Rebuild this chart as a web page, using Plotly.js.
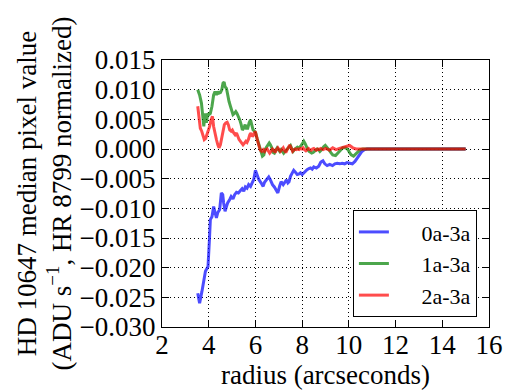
<!DOCTYPE html>
<html>
<head>
<meta charset="utf-8">
<script src="https://cdn.plot.ly/plotly-3.0.1.min.js"></script>
<style>html,body{margin:0;padding:0;background:#fff;}#chart{width:508px;height:392px;}</style>
</head>
<body>
<div id="chart"></div>
<script>
// series 0a-3a
const r0a = [3.53,3.61,3.71,3.79,3.86,3.93,3.97,4.03,4.07,4.14,4.21,4.26,4.33,4.39,4.47,4.54,4.60,4.64,4.70,4.76,4.81,4.90,4.96,5.04,5.11,5.19,5.27,5.36,5.43,5.50,5.57,5.64,5.71,5.79,5.86,5.93,6.00,6.07,6.14,6.24,6.33,6.39,6.47,6.57,6.64,6.73,6.81,6.90,6.96,7.04,7.10,7.19,7.24,7.33,7.39,7.44,7.50,7.57,7.64,7.71,7.79,7.87,7.93,8.00,8.07,8.14,8.21,8.29,8.36,8.43,8.50,8.61,8.71,8.80,8.89,8.97,9.07,9.18,9.30,9.40,9.50,9.61,9.71,9.82,9.92,10.04,10.15,10.26,10.36,10.46,10.56,10.68,10.78,11.0,12.0,13.0,14.0,15.0];
const v0a = [-0.0243,-0.0260,-0.0240,-0.0220,-0.0206,-0.0201,-0.0198,-0.0153,-0.0119,-0.0114,-0.0097,-0.0105,-0.0116,-0.0107,-0.0102,-0.0074,-0.0077,-0.0091,-0.0105,-0.0097,-0.0091,-0.0085,-0.0080,-0.0084,-0.0077,-0.0073,-0.0074,-0.0070,-0.0067,-0.0071,-0.0064,-0.0066,-0.0060,-0.0063,-0.0056,-0.0051,-0.0036,-0.0043,-0.0051,-0.0057,-0.0063,-0.0056,-0.0052,-0.0047,-0.0052,-0.0060,-0.0064,-0.0069,-0.0074,-0.0062,-0.0055,-0.0060,-0.0057,-0.0052,-0.0057,-0.0055,-0.0046,-0.0040,-0.0036,-0.0039,-0.0043,-0.0042,-0.0040,-0.0043,-0.0040,-0.0038,-0.0035,-0.0033,-0.0032,-0.0034,-0.0030,-0.0032,-0.0029,-0.0022,-0.0020,-0.0025,-0.0028,-0.0026,-0.0028,-0.0025,-0.0024,-0.0025,-0.0024,-0.0025,-0.0023,-0.0024,-0.0025,-0.0021,-0.0015,-0.0008,-0.0004,-0.0001,0,0,0,0,0,0];

// series 1a-3a
const r1a = [3.53,3.61,3.69,3.74,3.79,3.84,3.90,3.96,4.01,4.07,4.14,4.21,4.27,4.33,4.39,4.44,4.50,4.56,4.61,4.66,4.70,4.76,4.81,4.87,4.93,4.99,5.04,5.10,5.16,5.21,5.27,5.33,5.39,5.44,5.50,5.56,5.61,5.67,5.73,5.79,5.84,5.90,5.96,6.01,6.07,6.13,6.19,6.24,6.30,6.36,6.41,6.47,6.53,6.59,6.64,6.70,6.76,6.81,6.87,6.93,6.99,7.04,7.10,7.16,7.21,7.27,7.33,7.39,7.44,7.50,7.56,7.61,7.67,7.73,7.79,7.84,7.90,7.96,8.01,8.07,8.13,8.19,8.24,8.30,8.36,8.41,8.47,8.53,8.59,8.64,8.70,8.76,8.81,8.87,8.93,8.99,9.04,9.10,9.16,9.23,9.31,9.43,9.53,9.63,9.74,9.86,9.96,10.03,10.10,10.20,10.29,10.39,10.49,10.60,11.0,12.0,13.0,14.0,15.0];
const v1a = [0.0100,0.0091,0.0077,0.0055,0.0038,0.0060,0.0044,0.0060,0.0058,0.0060,0.0072,0.0091,0.0097,0.0091,0.0097,0.0094,0.0095,0.0100,0.0111,0.0113,0.0105,0.0102,0.0091,0.0080,0.0072,0.0063,0.0058,0.0060,0.0063,0.0060,0.0055,0.0049,0.0041,0.0032,0.0035,0.0041,0.0035,0.0035,0.0044,0.0049,0.0041,0.0032,0.0030,0.0027,0.0018,0.0010,0.0002,-0.0007,-0.0012,-0.0010,-0.0001,0.0003,0.0006,0.0010,0.0007,0.0002,-0.0006,-0.0007,-0.0002,0.0002,-0.0001,-0.0004,-0.0001,-0.0004,-0.0007,-0.0004,-0.0001,0.0002,0.0003,0.0006,0.0000,-0.0004,-0.0001,0.0002,0.0003,0.0001,0.0003,0.0006,0.0009,0.0013,0.0009,0.0003,-0.0001,-0.0004,-0.0006,-0.0007,-0.0006,-0.0004,-0.0001,0.0000,-0.0001,-0.0004,-0.0002,0.0002,0.0004,0.0006,0.0003,0.0001,-0.0002,-0.0006,-0.0010,-0.0011,-0.0007,-0.0002,0.0002,0.0002,-0.0001,-0.0006,-0.0010,-0.0012,-0.0008,-0.0004,-0.0001,0,0,0,0,0,0];

// series 2a-3a
const r2a = [3.53,3.59,3.64,3.70,3.76,3.81,3.87,3.93,3.99,4.04,4.10,4.16,4.21,4.27,4.33,4.39,4.44,4.50,4.56,4.61,4.67,4.73,4.79,4.84,4.90,4.96,5.01,5.07,5.13,5.19,5.24,5.30,5.36,5.41,5.47,5.53,5.59,5.64,5.70,5.76,5.81,5.87,5.93,5.99,6.04,6.10,6.16,6.21,6.27,6.33,6.39,6.44,6.50,6.56,6.61,6.67,6.73,6.79,6.84,6.90,6.96,7.01,7.07,7.13,7.19,7.24,7.30,7.36,7.41,7.47,7.53,7.59,7.64,7.70,7.76,7.81,7.87,7.93,7.99,8.04,8.10,8.16,8.21,8.27,8.33,8.39,8.44,8.50,8.56,8.61,8.67,8.73,8.79,8.84,8.90,8.96,9.01,9.07,9.17,9.31,9.45,9.60,9.74,9.89,10.03,10.17,10.31,10.45,10.60,11.0,12.0,13.0,14.0,15.0];
const v2a = [0.0072,0.0049,0.0035,0.0030,0.0024,0.0016,0.0018,0.0024,0.0030,0.0038,0.0049,0.0055,0.0038,0.0024,0.0016,0.0007,0.0002,0.0007,0.0021,0.0032,0.0041,0.0044,0.0045,0.0041,0.0032,0.0030,0.0032,0.0027,0.0024,0.0027,0.0021,0.0016,0.0013,0.0010,0.0007,0.0010,0.0013,0.0011,0.0016,0.0024,0.0027,0.0021,0.0024,0.0030,0.0024,0.0013,0.0004,-0.0002,-0.0004,-0.0001,-0.0004,-0.0001,0.0000,-0.0004,-0.0007,-0.0004,0.0000,-0.0002,-0.0006,-0.0001,0.0002,-0.0001,-0.0004,-0.0001,0.0002,-0.0002,-0.0006,-0.0001,0.0003,0.0007,0.0002,-0.0004,-0.0002,0.0000,-0.0001,0.0000,-0.0001,0.0001,0.0000,0.0002,-0.0001,-0.0003,-0.0001,0.0001,-0.0001,-0.0002,0.0000,0.0001,-0.0001,-0.0002,0.0000,-0.0001,0.0001,0.0000,-0.0001,0.0000,0.0001,0.0000,-0.0002,0.0002,-0.0001,0.0001,0.0003,0.0004,0.0006,0.0002,0.0000,0.0000,0,0,0,0,0,0];

const seriesNames = ['0a-3a','1a-3a','2a-3a'];
const seriesColors = ['rgba(0,0,255,0.7)','rgba(0,128,0,0.7)','rgba(255,0,0,0.7)'];
const xTicks = [2,4,6,8,10,12,14,16];
const yTicks = [-0.030,-0.025,-0.020,-0.015,-0.010,-0.005,0.000,0.005,0.010,0.015];

const SERIF = 'Liberation Serif';
const rs = [r0a, r1a, r2a];
const vs = [v0a, v1a, v2a];
const traces = rs.map((r, i) => ({
  x: r, y: vs[i], type: 'scatter', mode: 'lines',
  name: '\u00a0\u00a0\u00a0\u00a0\u00a0' + seriesNames[i],
  line: {color: seriesColors[i], width: 3}
}));

const layout = {
  width: 508, height: 392,
  margin: {l: 162, r: 19, t: 60, b: 65},
  font: {family: SERIF, size: 27, color: '#000'},
  showlegend: true,
  legend: {
    x: 0.963, y: 0.037, xanchor: 'right', yanchor: 'bottom',
    bgcolor: 'white', bordercolor: 'black', borderwidth: 1,
    font: {family: SERIF, size: 22}
  },
  xaxis: {
    range: [2, 16], tickvals: xTicks,
    showline: true, linecolor: 'black', mirror: 'ticks',
    ticks: 'inside', ticklen: 7, tickcolor: 'black',
    gridcolor: 'black', griddash: '1px,3px', zeroline: false,
    tickfont: {family: SERIF, size: 27},
    ticklabelstandoff: -6,
    title: {text: 'radius (arcseconds)', font: {family: SERIF, size: 27}, standoff: 0}
  },
  yaxis: {
    range: [-0.030, 0.015], tickvals: yTicks, tickformat: '.3f',
    showline: true, linecolor: 'black', mirror: 'ticks',
    ticks: 'inside', ticklen: 7, tickcolor: 'black',
    gridcolor: 'black', griddash: '1px,3px', zeroline: false,
    tickfont: {family: SERIF, size: 27},
    title: {text: 'HD 10647 median pixel value<br>(ADU s<sup>−1</sup>, HR 8799 normalized)', font: {family: SERIF, size: 27}, standoff: 0}
  }
};

Plotly.newPlot('chart', traces, layout, {staticPlot: true});
</script>
</body>
</html>
